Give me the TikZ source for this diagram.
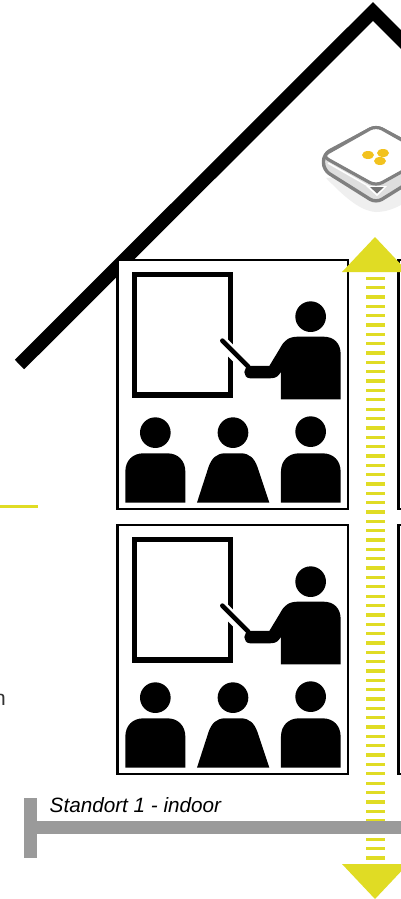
\documentclass[tikz,border=0pt]{standalone}
\usepackage{fontspec}
\setmainfont{Liberation Sans}
\definecolor{ylw}{HTML}{E0DC24}
\definecolor{barg}{HTML}{9A9A9A}
\definecolor{devline}{HTML}{808080}
\definecolor{devside}{HTML}{DEDEDE}
\definecolor{devshadow}{HTML}{EFEFEF}
\definecolor{devdot}{HTML}{F2C21E}
\tikzset{
 figure/.style={fill=black,draw=none},
 roomframe/.style={draw=black,line width=2.4pt,fill=white},
 classroom/.pic={
  \begin{scope}[shift={(110,250)},x=0.3333pt,y=-0.3333pt]
   \draw[black,line width=5.3pt,miter limit=10] (74,73) rectangle (361,435);
   \fill[figure] (602,200) circle (46);
   \fill[figure] (513,448) -- (513,365) .. controls (505,378) and (500,385) .. (480,385) -- (421,385)
     .. controls (397,385) and (397,348) .. (421,348) -- (478,348) -- (510,295)
     .. controls (522,272) and (535,260) .. (565,260) -- (640,260)
     .. controls (672,260) and (692,280) .. (692,312) -- (692,448) -- cycle;
   \draw[white,line width=12pt] (340,280) -- (388,328);
   \draw[black,line width=4.6pt,line cap=round] (337,272) -- (415,350);
   \fill[figure] (136,548) circle (46);
   \fill[figure] (369,548) circle (46);
   \fill[figure] (602,545) circle (46);
   \fill[figure] (46,758) -- (46,665) .. controls (46,632) and (68,610) .. (100,610) -- (172,610)
     .. controls (204,610) and (226,632) .. (226,665) -- (226,758) -- cycle;
   \fill[figure] (513,758) -- (513,665) .. controls (513,632) and (535,610) .. (567,610) -- (638,610)
     .. controls (670,610) and (692,632) .. (692,665) -- (692,758) -- cycle;
   \fill[figure] (261,758) -- (296,650) .. controls (305,625) and (320,610) .. (345,610) -- (393,610)
     .. controls (418,610) and (433,625) .. (442,650) -- (478,758) -- cycle;
  \end{scope}
 },
}
\begin{document}
\begin{tikzpicture}[x=1pt,y=-1pt]
\useasboundingbox (0,0) rectangle (401,899);
\clip (0,0) rectangle (401,899);
\fill[white] (0,0) rectangle (401,899);
% roof
\draw[black,line width=13.4pt,miter limit=10] (19.5,364.5) -- (373,11.5) -- (420,58.5);
% device
\fill[devshadow] (326,178) .. controls (340,192) and (358,211) .. (376,212) .. controls (390,212) and (402,205) .. (412,198) -- (412,170) -- cycle;
\filldraw[draw=devline,line width=3.4pt,fill=devside,rounded corners=7pt] (323.5,154) -- (323.5,170) -- (376,203) -- (429,170) -- (429,154) -- (376,126) -- cycle;
\filldraw[draw=devline,line width=3.2pt,fill=white,rounded corners=7pt] (322,156) -- (376,125.5) -- (430,156) -- (376,186) -- cycle;
\draw[white,line width=1.5pt,rounded corners=5pt] (328,163) -- (370,187);
\fill[white] (366,186) -- (387,186) -- (377,196) -- cycle;
\fill[black!55] (370,187) -- (384,187) -- (377,193.5) -- cycle;
\fill[devdot] (368,155) ellipse (6 and 4);
\fill[devdot] (383,153) ellipse (6 and 4);
\fill[devdot] (380,161) ellipse (6 and 4);
% rooms
\draw[roomframe] (117.5,260) rectangle (348,509);
\draw[roomframe] (117.5,525) rectangle (348,774);
\draw[roomframe] (398.5,260) rectangle (450,509);
\draw[roomframe] (398.5,525) rectangle (450,774);
\pic at (0,0) {classroom};
\pic at (0,265) {classroom};
% arrow
\foreach \k in {0,...,62}{
 \fill[ylw] (366,{276.6+\k*9.35}) rectangle (384.7,{279.9+\k*9.35});
}
\fill[ylw] (375,237) -- (408,272) -- (342,272) -- cycle;
\fill[ylw] (342,864) -- (408,864) -- (375,899) -- cycle;
% ground bar
\fill[barg] (23.5,797.7) rectangle (37,857.7);
\fill[barg] (37,821) rectangle (401,834.3);
\node[anchor=base west,inner sep=0,font=\itshape\fontsize{20.7}{24}\selectfont,text=black] (lbl) at (49.5,812.7) {Standort 1 - indoor};
% left fragments
\fill[ylw] (0,504.8) rectangle (38,507.6);
\node[anchor=base east,inner sep=0,font=\fontsize{21}{24}\selectfont,text=black!80] (frag) at (6,705) {n};
\end{tikzpicture}
\end{document}
